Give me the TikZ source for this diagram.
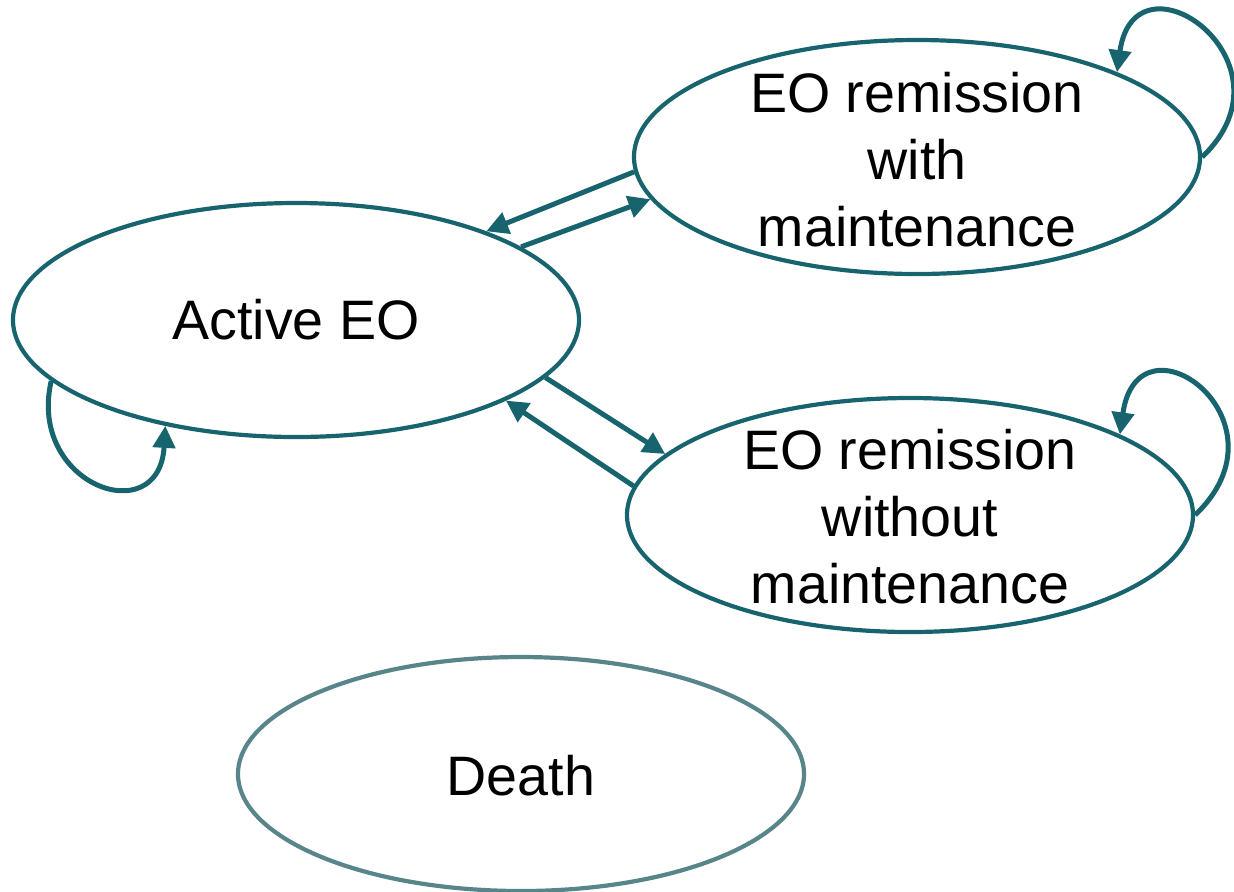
\documentclass[tikz,border=0pt]{standalone}
\usepackage{fontspec}
\setmainfont{Liberation Sans}
\usetikzlibrary{shapes.geometric,arrows.meta}
\definecolor{teal1}{HTML}{17646E}
\definecolor{grayteal}{HTML}{588589}
\begin{document}
\begin{tikzpicture}[x=0.5pt,y=-0.5pt,
  state/.style={ellipse,draw=teal1,line width=2.1pt,minimum width=283pt,minimum height=117pt,inner sep=0pt},
  lbl/.style={align=center,font=\fontsize{27.8}{33.5}\selectfont,inner sep=0pt},
  conn/.style={draw=teal1,line width=2.5pt,-{Triangle[length=11pt,width=11pt]}}]
\useasboundingbox (0,0) rectangle (1234,891);
\node[state] (A) at (296,320) {};
\node[state] (W) at (917,157) {};
\node[state] (N) at (910,515) {};
\node[state,draw=grayteal] (D) at (521,774) {};
\node[lbl] (At) at (296,320) {Active EO};
\node[lbl] (Wt) at (917,160) {EO remission\\with\\maintenance};
\node[lbl] (Nt) at (910,517) {EO remission\\without\\maintenance};
\node[lbl] (Dt) at (521,776) {Death};
\draw[conn] (W.183) -- (A.25.7);
\draw[conn] (A.18) -- (W.189.6);
\draw[conn] (A.-13.8) -- (N.166.8);
\draw[conn] (N.174.2) -- (A.-21.3);
\draw[conn] (A.194) .. controls +(-24,104) and +(-6,106) .. (A.219.9);
\draw[conn] (W.0.4) .. controls +(100,-95) and +(18,-128) .. (W.23);
\draw[conn] (N.-0.6) .. controls +(100,-95) and +(18,-128) .. (N.21.8);
\end{tikzpicture}
\end{document}
